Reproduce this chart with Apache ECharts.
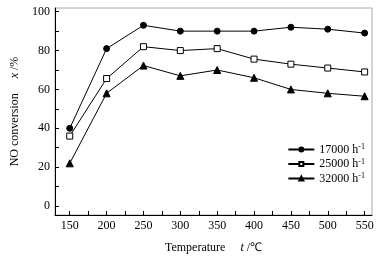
<!DOCTYPE html>
<html><head><meta charset="utf-8">
<script src="https://cdn.jsdelivr.net/npm/echarts@6/dist/echarts.min.js"></script>
<style>html,body{margin:0;padding:0;background:#fff}#c{width:380px;height:259px}</style>
</head><body><div id="c"></div>
<script>
const temps = [150, 200, 250, 300, 350, 400, 450, 500, 550];
const s17000 = [40, 81, 93, 90, 90, 90, 92, 91, 89];
const s25000 = [36, 65.6, 82, 80, 81, 75.6, 73, 71, 69];
const s32000 = [22, 58, 72.3, 67, 70, 66, 60, 58, 56.5];
const seriesNames = ['17000', '25000', '32000'];
const xTickLabels = [150, 200, 250, 300, 350, 400, 450, 500, 550];
const yTickLabels = [0, 20, 40, 60, 80, 100];
const yMinorTicks = [0, 10, 20, 30, 40, 50, 60, 70, 80, 90, 100];
const xAllTicks = [150, 175, 200, 225, 250, 275, 300, 325, 350, 375, 400, 425, 450, 475, 500, 525, 550];

const FONT = 'Liberation Serif';
const chart = echarts.init(document.getElementById('c'), null, {renderer: 'canvas'});
const pair = (arr) => temps.map((t, i) => [t, arr[i]]);
const mk = (name, data, symbol, size, fill) => ({
  name: name, type: 'line', data: pair(data), symbol: symbol, symbolSize: size,
  lineStyle: {color: '#000', width: 1}, itemStyle: {color: fill, borderColor: '#000', borderWidth: 1},
  showSymbol: true, animation: false, z: 3
});
chart.setOption({
  animation: false,
  textStyle: {fontFamily: FONT},
  grid: {left: 55, right: 8, top: 8, bottom: 43, show: true, borderColor: '#aaa', borderWidth: 1},
  legend: {
    right: 10, top: 138, orient: 'vertical', itemWidth: 26, itemHeight: 5, itemGap: 2,
    textStyle: {fontFamily: FONT, color: '#000', fontSize: 12,
      rich: {n: {fontFamily: FONT, fontSize: 12, color: '#000'}, s: {fontFamily: FONT, fontSize: 8, color: '#000', verticalAlign: 'top', padding: [0,0,5,0]}}},
    formatter: (n) => '{n|' + n + ' h}{s|-1}',
    data: seriesNames
  },
  xAxis: {
    type: 'value', min: 130, max: 560,
    axisLine: {show: true, onZero: false, lineStyle: {color: '#000', width: 1}},
    axisTick: {show: true, inside: true, length: 4, customValues: xAllTicks, lineStyle: {color: '#000'}},
    axisLabel: {customValues: xTickLabels, color: '#000', fontSize: 12, fontFamily: FONT, margin: 5},
    splitLine: {show: false},
    name: '{a|Temperature     }{i|t}{a| /℃}', nameLocation: 'middle', nameGap: 27,
    nameTextStyle: {rich: {a: {fontFamily: FONT, fontSize: 12, color: '#000'}, i: {fontFamily: FONT, fontStyle: 'italic', fontSize: 12, color: '#000'}}}
  },
  yAxis: {
    type: 'value', min: -4.6, max: 101.9,
    axisLine: {show: true, onZero: false, lineStyle: {color: '#000', width: 1}},
    axisTick: {show: true, inside: true, length: 4, customValues: yMinorTicks, lineStyle: {color: '#000'}},
    axisLabel: {customValues: yTickLabels, color: '#000', fontSize: 12, fontFamily: FONT, margin: 5},
    splitLine: {show: false},
    name: '{a|NO conversion     }{i|x}{a| /%}', nameLocation: 'middle', nameGap: 31,
    nameTextStyle: {rich: {a: {fontFamily: FONT, fontSize: 12, color: '#000'}, i: {fontFamily: FONT, fontStyle: 'italic', fontSize: 12, color: '#000'}}}
  },
  series: [
    mk(seriesNames[0], s17000, 'circle', 6, '#000'),
    mk(seriesNames[1], s25000, 'rect', 6, '#fff'),
    mk(seriesNames[2], s32000, 'triangle', 7, '#000')
  ]
});
</script></body></html>
